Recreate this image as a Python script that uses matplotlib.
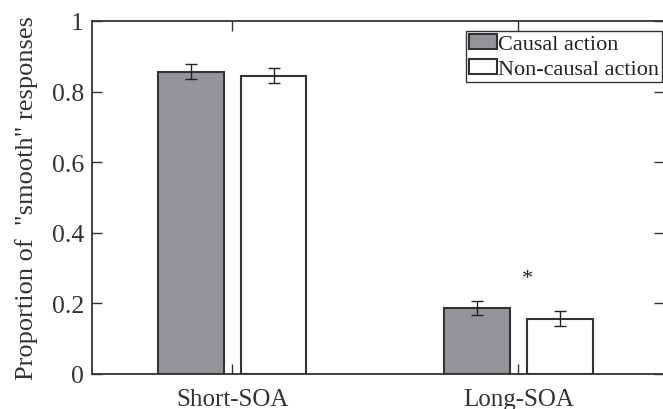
import numpy as np
import matplotlib.pyplot as plt

conditions = ['Short-SOA', 'Long-SOA']
causal = [0.856, 0.188]
causal_err = [0.021, 0.020]
noncausal = [0.845, 0.157]
noncausal_err = [0.021, 0.022]
series_names = ['Causal action', 'Non-causal action']

plt.rcParams['font.family'] = ['Liberation Serif', 'DejaVu Serif']
plt.rcParams['font.size'] = 18

axcol = '#333333'
fig = plt.figure(figsize=(6.63, 4.10), dpi=100)
ax = fig.add_axes([0.139, 0.0854, 0.863, 0.861])

x = np.arange(1, len(conditions) + 1)
w = 0.23
off = 0.144
ax.bar(x - off, causal, w, color='#939598', edgecolor=axcol, linewidth=1.5,
       label=series_names[0], zorder=2)
ax.bar(x + off, noncausal, w, color='white', edgecolor=axcol, linewidth=1.5,
       label=series_names[1], zorder=2)
ax.errorbar(x - off, causal, yerr=causal_err, fmt='none', ecolor='#222222',
            elinewidth=1, capsize=4, capthick=1, zorder=3)
ax.errorbar(x + off, noncausal, yerr=noncausal_err, fmt='none', ecolor='#222222',
            elinewidth=1, capsize=4, capthick=1, zorder=3)

# significance marker for Long-SOA
ax.text(2.03, 0.27, '*', ha='center', va='center', fontsize=16, color='#222222')

ax.set_xlim(0.51, 2.51)
ax.set_ylim(0, 1)
ax.set_xticks(x)
ax.set_xticklabels(conditions)
ax.set_yticks([0, 0.2, 0.4, 0.6, 0.8, 1])
ax.set_yticklabels(['0', '0.2', '0.4', '0.6', '0.8', '1'])
ax.tick_params(direction='in', length=7, width=1, colors=axcol,
               top=True, right=True, labelcolor='#333333')
ax.tick_params(axis='x', pad=10)
ax.tick_params(axis='y', labelsize=18.5, pad=6)
for s in ax.spines.values():
    s.set_color(axcol)
    s.set_linewidth(1.3)

ax.set_ylabel('Proportion of  "smooth" responses', color='#333333',
              fontsize=19, labelpad=10)

leg = ax.legend(loc='upper right', bbox_to_anchor=(0.9965, 0.972), fancybox=False,
                framealpha=1, edgecolor=axcol, borderpad=0.15, handlelength=1.25,
                handleheight=0.65, handletextpad=0.05, labelspacing=0.2,
                borderaxespad=0, fontsize=16)
leg.get_frame().set_linewidth(1)
for t in leg.get_texts():
    t.set_color('#222222')

fig.savefig('out.png', dpi=100)
